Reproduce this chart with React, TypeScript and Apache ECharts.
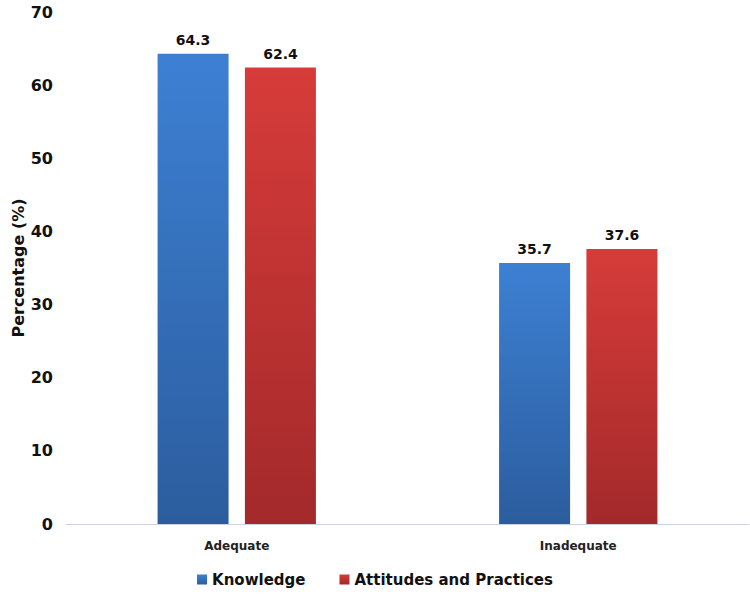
import React, { useEffect, useRef } from "react";
import * as echarts from "echarts";

const categories = ["Adequate", "Inadequate"];
const knowledge = [64.3, 35.7];
const attitudes = [62.4, 37.6];
const yTicks = [0, 10, 20, 30, 40, 50, 60, 70];

const FONT = "DejaVu Sans";

export default function App() {
  const ref = useRef<HTMLDivElement>(null);
  useEffect(() => {
    if (!ref.current) return;
    const chart = echarts.init(ref.current, null, { renderer: "svg" });
    const grad = (top: string, bottom: string) =>
      new echarts.graphic.LinearGradient(0, 0, 0, 1, [
        { offset: 0, color: top },
        { offset: 1, color: bottom },
      ]);
    const labelCfg = {
      show: true,
      position: "top" as const,
      distance: 7,
      fontFamily: FONT,
      fontWeight: "bold" as const,
      fontSize: 14,
      color: "#111",
      formatter: (p: any) => Number(p.value).toFixed(1),
    };
    chart.setOption({
      animation: false,
      backgroundColor: "#ffffff",
      grid: {
        left: 66,
        right: 1,
        top: 12,
        bottom: 72,
        containLabel: false,
        outerBoundsMode: "none",
      },
      legend: {
        bottom: 4,
        left: "center",
        itemWidth: 10,
        itemHeight: 10,
        itemGap: 34,
        icon: "rect",
        textStyle: { fontFamily: FONT, fontWeight: "bold", fontSize: 15, color: "#111" },
        data: ["Knowledge", "Attitudes and Practices"],
      },
      xAxis: {
        type: "category",
        data: categories,
        axisLine: { lineStyle: { color: "#c9d3e3", width: 1 } },
        axisTick: { show: false },
        axisLabel: {
          fontFamily: FONT,
          fontWeight: "bold",
          fontSize: 12,
          color: "#222",
          margin: 16,
        },
      },
      yAxis: {
        type: "value",
        min: yTicks[0],
        max: yTicks[yTicks.length - 1],
        interval: 10,
        name: "Percentage (%)",
        nameLocation: "middle",
        nameGap: 40,
        nameMoveOverlap: false,
        nameRotate: 90,
        nameTextStyle: { fontFamily: FONT, fontWeight: "bold", fontSize: 16, color: "#111" },
        axisLine: { show: false },
        axisTick: { show: false },
        splitLine: { show: false },
        axisLabel: {
          fontFamily: FONT,
          fontWeight: "bold",
          fontSize: 16,
          color: "#111",
          margin: 13,
        },
      },
      series: [
        {
          name: "Knowledge",
          type: "bar",
          data: knowledge,
          barWidth: 71,
          barGap: "23%",
          itemStyle: { color: grad("#3d80d3", "#2b5d9e") },
          label: labelCfg,
        },
        {
          name: "Attitudes and Practices",
          type: "bar",
          data: attitudes,
          barWidth: 71,
          itemStyle: { color: grad("#d63c39", "#a3292a") },
          label: labelCfg,
        },
      ],
    });
    return () => chart.dispose();
  }, []);
  return (
    <div
      ref={ref}
      style={{ position: "fixed", left: 0, top: 0, width: 750, height: 596 }}
    />
  );
}
